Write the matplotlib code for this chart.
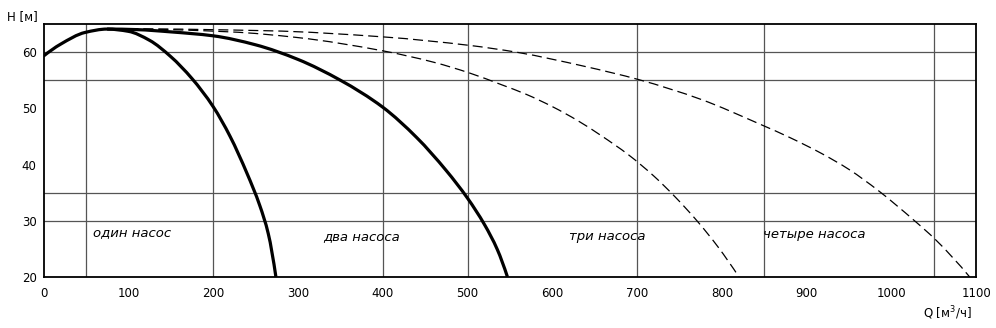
import numpy as np
import matplotlib
matplotlib.use("Agg")
import matplotlib.pyplot as plt
from matplotlib.path import Path
from matplotlib.patches import PathPatch

# Head curves H(Q) for parallel operation of 1..4 pumps
q_one = [0, 20, 49, 75, 100, 125, 150, 175, 200, 220, 240, 255, 265, 274]
h_one = [59.3, 61.4, 63.5, 64.1, 63.7, 62.1, 59.2, 55.3, 50.3, 45.0, 38.4, 32.7, 27.7, 20.0]

q_two = [75, 110, 150, 200, 250, 300, 350, 400, 440, 475, 500, 520, 535, 547]
h_two = [64.1, 64.0, 63.6, 62.9, 61.3, 58.7, 55.0, 50.2, 44.8, 38.9, 34.0, 29.3, 24.9, 20.0]

q_three = [100, 220, 299, 401, 460, 502, 540, 569, 600, 630, 657, 690, 720, 745, 771, 795, 820]
h_three = [64.1, 63.6, 62.6, 60.2, 58.2, 56.3, 54.2, 52.5, 50.3, 47.8, 45.2, 41.7, 37.9, 34.2, 29.9, 25.4, 20.0]

q_four = [100, 264, 401, 502, 559, 637, 702, 775, 846, 880, 917, 950, 984, 1027, 1052, 1092]
h_four = [64.1, 63.8, 62.7, 61.2, 59.95, 57.5, 55.1, 51.6, 47.1, 44.8, 42.0, 39.1, 35.4, 30.0, 26.6, 20.0]

labels = ["один насос", "два насоса", "три насоса", "четыре насоса"]
label_q = [58, 330, 619, 848]
label_h = [27.9, 27.2, 27.2, 27.5]

x_ticks = list(range(0, 1101, 100))
y_ticks = [20, 30, 40, 50, 60]
x_grid = [50, 200, 400, 500, 700, 850, 1050]
y_grid = [30, 35, 55, 60]


def pchip_slopes(x, y):
    """Fritsch-Carlson slopes: shape preserving, no overshoot between points."""
    h = np.diff(x)
    d = np.diff(y) / h
    m = np.zeros_like(y)
    for k in range(1, len(x) - 1):
        if d[k - 1] * d[k] > 0:
            w1 = 2 * h[k] + h[k - 1]
            w2 = h[k] + 2 * h[k - 1]
            m[k] = (w1 + w2) / (w1 / d[k - 1] + w2 / d[k])
    # one-sided three-point estimates at both ends
    m[0] = ((2 * h[0] + h[1]) * d[0] - h[0] * d[1]) / (h[0] + h[1])
    m[-1] = ((2 * h[-1] + h[-2]) * d[-1] - h[-1] * d[-2]) / (h[-1] + h[-2])
    return m


def smooth_curve(ax, q, h, **kw):
    """Cubic Hermite curve through the points, drawn as Bezier segments."""
    x = np.asarray(q, float)
    y = np.asarray(h, float)
    m = pchip_slopes(x, y)
    verts = [(x[0], y[0])]
    codes = [Path.MOVETO]
    for i in range(len(x) - 1):
        dx = (x[i + 1] - x[i]) / 3
        verts += [(x[i] + dx, y[i] + m[i] * dx),
                  (x[i + 1] - dx, y[i + 1] - m[i + 1] * dx),
                  (x[i + 1], y[i + 1])]
        codes += [Path.CURVE4] * 3
    ax.add_patch(PathPatch(Path(verts, codes), fill=False, **kw))


fig = plt.figure(figsize=(9.96, 3.28), dpi=100)
ax = fig.add_axes([0.0437, 0.1555, 0.9367, 0.7713])

for xg in x_grid:
    ax.axvline(xg, color="#555555", lw=0.9, zorder=1)
for yg in y_grid:
    ax.axhline(yg, color="#555555", lw=0.9, zorder=1)

smooth_curve(ax, q_one, h_one, edgecolor="black", lw=2.3, capstyle="butt", zorder=3)
smooth_curve(ax, q_two, h_two, edgecolor="black", lw=2.3, capstyle="butt", zorder=3)
smooth_curve(ax, q_three, h_three, edgecolor="black", lw=0.9, linestyle=(0, (8, 4)), zorder=2)
smooth_curve(ax, q_four, h_four, edgecolor="black", lw=0.9, linestyle=(0, (8, 4)), zorder=2)

for txt, lq, lh in zip(labels, label_q, label_h):
    ax.text(lq, lh, txt, fontsize=9.5, style="italic", va="center", ha="left", zorder=4)

ax.set_xlim(0, 1100)
ax.set_ylim(20, 65)
ax.set_xticks(x_ticks)
ax.set_yticks(y_ticks)
ax.tick_params(axis="x", length=0, labelsize=8.5, pad=7)
ax.tick_params(axis="y", length=0, labelsize=8.5, pad=5)
for s in ax.spines.values():
    s.set_linewidth(1.3)

fig.text(0.007, 0.951, "H [м]", fontsize=8.5, va="center", ha="left")
fig.text(0.976, 0.046, "Q [м$^3$/ч]", fontsize=8.5, va="center", ha="right")

fig.savefig("out.png", dpi=100)
